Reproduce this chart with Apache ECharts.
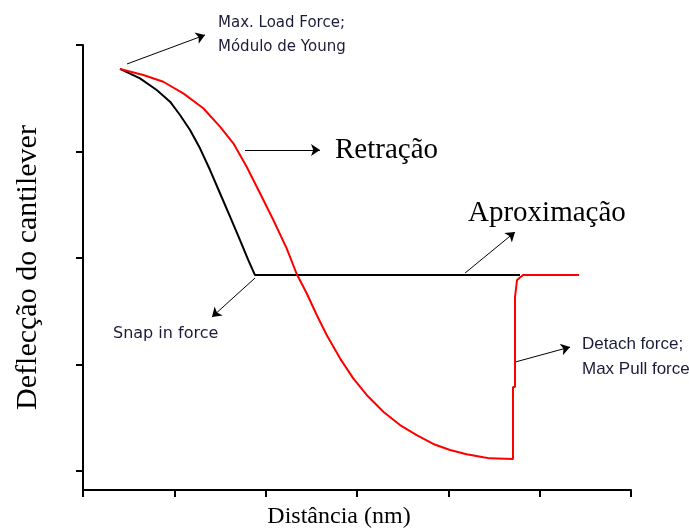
<!DOCTYPE html>
<html>
<head>
<meta charset="utf-8">
<script src="https://cdn.jsdelivr.net/npm/echarts@6/dist/echarts.min.js"></script>
<style>html,body{margin:0;padding:0;background:#fff;}#c{width:689px;height:528px;}</style>
</head>
<body>
<div id="c"></div>
<script>
// Aproximação (black) curve: [distance, deflection]
var approachX = [0.405, 0.624, 0.807, 0.953, 1.062, 1.172, 1.281, 1.391, 1.500, 1.610, 1.719, 1.810, 1.883, 4.785];
var approachY = [3.775, 3.687, 3.577, 3.468, 3.343, 3.202, 3.030, 2.826, 2.608, 2.388, 2.169, 1.981, 1.840, 1.840];
// Retração (red) curve
var retractX = [0.405, 0.660, 0.879, 1.098, 1.317, 1.500, 1.646, 1.792, 1.938, 2.084, 2.230, 2.340, 2.449, 2.559, 2.668, 2.814, 2.959, 3.106, 3.288, 3.471, 3.654, 3.835, 4.018, 4.201, 4.383, 4.456, 4.708, 4.708, 4.730, 4.730, 4.752, 4.818, 5.431];
var retractY = [3.775, 3.718, 3.655, 3.546, 3.406, 3.233, 3.077, 2.857, 2.608, 2.357, 2.091, 1.850, 1.669, 1.465, 1.277, 1.058, 0.870, 0.714, 0.557, 0.432, 0.338, 0.254, 0.197, 0.157, 0.129, 0.119, 0.113, 0.789, 0.789, 1.634, 1.793, 1.840, 1.840];
// Tick values
var xTicks = [0, 1, 2, 3, 4, 5, 6];
var yTicks = [0, 1, 2, 3, 4];
// Annotation arrows [x1, y1, x2, y2] in data units
var arrows = [
  [0.482, 3.822, 1.336, 4.094],
  [1.774, 3.014, 2.595, 3.014],
  [4.183, 1.859, 4.730, 2.244],
  [1.883, 1.812, 1.412, 1.446],
  [4.730, 1.023, 5.332, 1.164]
];
// Annotation texts [text, x(px), y(px), kind]
var notes = [
  ['Max. Load Force;', 218, 24, 'tahoma'],
  ['Módulo de Young', 218, 48, 'tahoma'],
  ['Retração', 335, 151, 'serif'],
  ['Aproximação', 468, 214, 'serif'],
  ['Snap in force', 113, 335, 'tahoma'],
  ['Detach force;', 582, 345, 'arial'],
  ['Max Pull force', 582, 370, 'arial']
];

function zip(xs, ys) { return xs.map(function (x, i) { return [x, ys[i]]; }); }

var fontMap = {
  tahoma: { fontFamily: 'DejaVu Sans', fontSize: 15, fill: '#1b1b3a' },
  serif: { fontFamily: 'Liberation Serif', fontSize: 29, fill: '#000' },
  arial: { fontFamily: 'Liberation Sans', fontSize: 17, fill: '#1b1b3a' }
};
var graphics = notes.map(function (n) {
  var f = fontMap[n[3]];
  var size = (n[0] === 'Snap in force') ? 16 : f.fontSize;
  return {
    type: 'text', left: n[1], top: n[2] - size / 2 - 1, silent: true,
    style: { text: n[0], fontFamily: f.fontFamily, fontSize: size, fill: f.fill }
  };
});

var chart = echarts.init(document.getElementById('c'), null, { renderer: 'canvas' });
var axisCommon = {
  type: 'value',
  splitLine: { show: false },
  axisLabel: { show: false },
  axisLine: { show: true, onZero: false, lineStyle: { color: '#000', width: 2 } },
  axisTick: { show: true, inside: false, length: 7, lineStyle: { color: '#000', width: 2 } }
};
chart.setOption({
  animation: false,
  backgroundColor: '#fff',
  grid: { left: 83, right: 58, top: 45, bottom: 38, containLabel: false, outerBoundsMode: 'none' },
  xAxis: Object.assign({}, axisCommon, {
    min: xTicks[0], max: xTicks[xTicks.length - 1], interval: 1,
    name: 'Distância (nm)', nameLocation: 'middle', nameGap: 15,
    nameTextStyle: { fontFamily: 'Liberation Serif', fontSize: 24, color: '#000', verticalAlign: 'top', padding: [0, 36, 0, 0] }
  }),
  yAxis: Object.assign({}, axisCommon, {
    min: -0.178, max: yTicks[yTicks.length - 1],
    axisTick: { show: true, inside: false, length: 7, customValues: yTicks, lineStyle: { color: '#000', width: 2 } },
    name: 'Deflecção do cantilever', nameLocation: 'middle', nameGap: 40, nameRotate: 90,
    nameTextStyle: { fontFamily: 'Liberation Serif', fontSize: 30, color: '#000' }
  }),
  series: [
    {
      name: 'Aproximação', type: 'line', data: zip(approachX, approachY),
      showSymbol: false, symbol: 'none', clip: false,
      lineStyle: { color: '#000', width: 2 }
    },
    {
      name: 'Retração', type: 'line', data: zip(retractX, retractY),
      showSymbol: false, symbol: 'none', clip: false,
      lineStyle: { color: '#ff0000', width: 2 }
    },
    {
      name: 'arrows', type: 'lines', coordinateSystem: 'cartesian2d', clip: false, silent: true,
      symbol: ['none', 'arrow'], symbolSize: 9,
      lineStyle: { color: '#000', width: 1, opacity: 1, curveness: 0 },
      data: arrows.map(function (a) { return { coords: [[a[0], a[1]], [a[2], a[3]]] }; })
    }
  ],
  graphic: graphics
});
</script>
</body>
</html>
